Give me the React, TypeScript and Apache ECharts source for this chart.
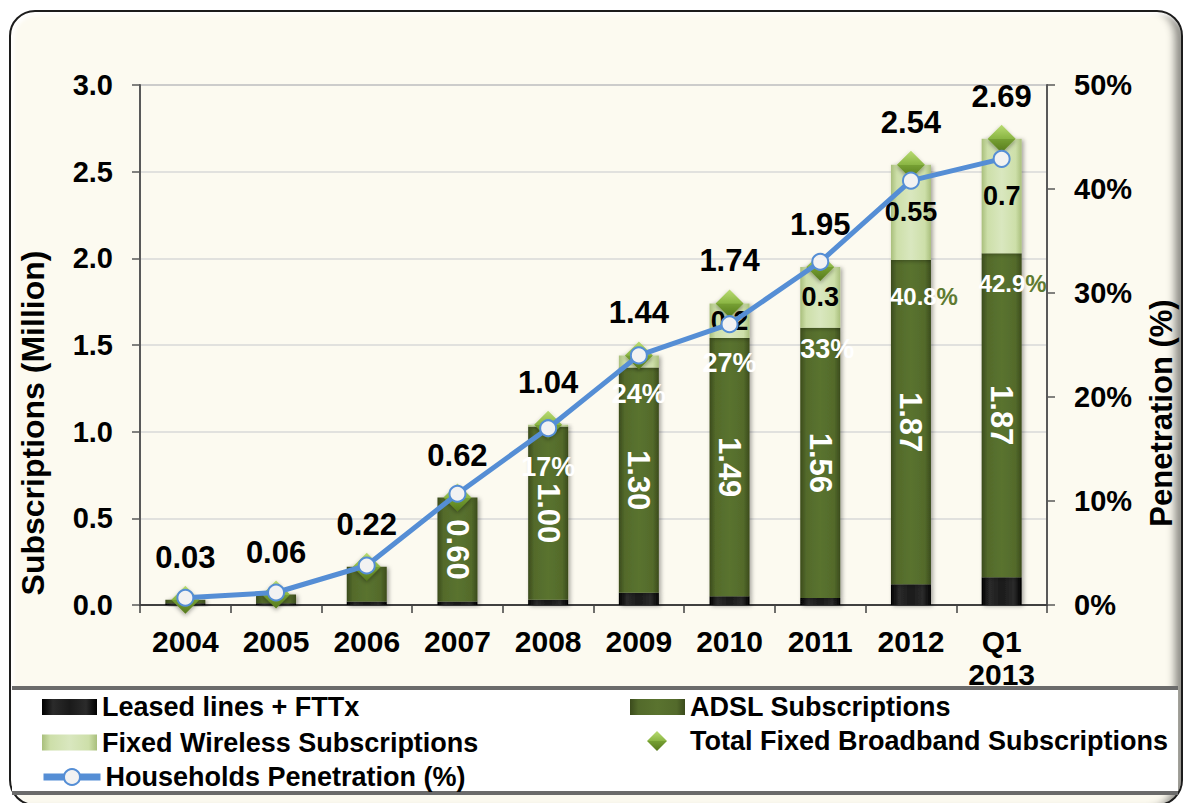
import React, { useEffect, useRef } from "react";
import * as echarts from "echarts";

const categories = ["2004", "2005", "2006", "2007", "2008", "2009", "2010", "2011", "2012", "Q1\n2013"];
const leasedLines = [0.01, 0.01, 0.02, 0.02, 0.03, 0.07, 0.05, 0.04, 0.12, 0.16];
const adslSubs = [0.02, 0.05, 0.2, 0.6, 1.0, 1.3, 1.49, 1.56, 1.87, 1.87];
const fixedWireless = [0, 0, 0, 0, 0.01, 0.07, 0.2, 0.35, 0.55, 0.66];
const wirelessLabels = ["", "", "", "", "", "", "0.2", "0.3", "0.55", "0.7"];
const totalBroadband = [0.03, 0.06, 0.22, 0.62, 1.04, 1.44, 1.74, 1.95, 2.54, 2.69];
const penetration = [0.7, 1.2, 3.8, 10.7, 17, 24, 27, 33, 40.8, 42.9];

const FONT = "'Liberation Sans', Arial, Helvetica, sans-serif";
// label placement tweaks for the penetration labels (style, not data)
const penLabelShift: Record<number, [number, number]> = { 7: [7, 49], 8: [13, 79], 9: [11, 88] };

const hGrad = (stops: [number, string][]) =>
  new echarts.graphic.LinearGradient(0, 0, 1, 0, stops.map(([offset, color]) => ({ offset, color })));
const vGrad = (stops: [number, string][]) =>
  new echarts.graphic.LinearGradient(0, 0, 0, 1, stops.map(([offset, color]) => ({ offset, color })));

function buildOption(): any {
  const leasedColor = hGrad([[0, "#000000"], [0.2, "#2b2b2b"], [0.5, "#1a1a1a"], [0.8, "#2b2b2b"], [1, "#000000"]]);
  const adslColor = hGrad([[0, "#3b4b1c"], [0.15, "#536a2b"], [0.5, "#5a732f"], [0.85, "#536a2b"], [1, "#3b4b1c"]]);
  const wirelessColor = hGrad([[0, "#a9bf7c"], [0.15, "#cddfa9"], [0.5, "#d9e7bf"], [0.85, "#cddfa9"], [1, "#a9bf7c"]]);
  const diamondColor = vGrad([[0, "#b9dc72"], [0.5, "#8ab543"], [0.51, "#76a033"], [1, "#56791c"]]);
  const barShadow = { shadowBlur: 4, shadowColor: "rgba(0,0,0,0.35)", shadowOffsetX: 2, shadowOffsetY: 1 };
  const legendText = { fontFamily: FONT, fontSize: 27, fontWeight: "bold", color: "#000", lineHeight: 30 };
  const legendBase = { orient: "horizontal", padding: 0, itemWidth: 55, textStyle: legendText, selectedMode: false };

  return {
    animation: false,
    backgroundColor: "transparent",
    textStyle: { fontFamily: FONT },
    grid: { left: 140, right: 141, top: 85, bottom: 198, show: true, borderColor: "#8c8c8c", borderWidth: 1.5 },
    legend: [
      { ...legendBase, data: ["Leased lines + FTTx"], left: 42, top: 692, itemHeight: 16, icon: "rect" },
      { ...legendBase, data: ["Fixed Wireless Subscriptions"], left: 42, top: 727.5, itemHeight: 16, icon: "rect" },
      {
        ...legendBase,
        data: ["Households Penetration (%)"],
        left: 40,
        top: 762,
        itemWidth: 57,
        itemHeight: 20,
        lineStyle: { width: 7 },
      },
      { ...legendBase, data: ["ADSL Subscriptions"], left: 630, top: 692, itemHeight: 16, icon: "rect" },
      {
        ...legendBase,
        data: ["Total Fixed Broadband Subscriptions"],
        left: 647,
        top: 726,
        itemWidth: 20,
        itemHeight: 20,
        textStyle: { ...legendText, padding: [0, 0, 0, 18] },
      },
    ],
    xAxis: {
      type: "category",
      data: categories,
      boundaryGap: true,
      axisLine: { show: true, lineStyle: { color: "#404040", width: 2 } },
      axisTick: { show: true, length: 8, interval: 0, alignWithLabel: false, lineStyle: { color: "#404040", width: 1.5 } },
      axisLabel: { interval: 0, margin: 20, fontFamily: FONT, fontSize: 30, fontWeight: "bold", color: "#000", lineHeight: 33 },
    },
    yAxis: [
      {
        type: "value",
        min: 0,
        max: 3,
        interval: 0.5,
        axisLine: { show: true, lineStyle: { color: "#595959", width: 2 } },
        axisTick: { show: true, length: 8, lineStyle: { color: "#595959", width: 1.5 } },
        axisLabel: {
          margin: 27,
          fontFamily: FONT,
          fontSize: 29,
          fontWeight: "bold",
          color: "#000",
          formatter: (v: number) => v.toFixed(1),
        },
        splitLine: { show: true, lineStyle: { color: "#d9d9d9", width: 1.5 } },
      },
      {
        type: "value",
        position: "right",
        min: 0,
        max: 50,
        interval: 10,
        axisLine: { show: true, lineStyle: { color: "#595959", width: 2 } },
        axisTick: { show: true, length: 8, lineStyle: { color: "#595959", width: 1.5 } },
        axisLabel: {
          margin: 27,
          fontFamily: FONT,
          fontSize: 29,
          fontWeight: "bold",
          color: "#000",
          formatter: "{value}%",
        },
        splitLine: { show: false },
      },
    ],
    graphic: [
      {
        type: "text",
        x: 33,
        y: 423,
        rotation: Math.PI / 2,
        style: {
          text: "Subscriptions (Million)",
          fontFamily: FONT,
          fontSize: 32,
          fontWeight: "bold",
          fill: "#000",
          align: "center",
          verticalAlign: "middle",
        },
      },
      {
        type: "text",
        x: 1161,
        y: 413,
        rotation: Math.PI / 2,
        style: {
          text: "Penetration (%)",
          fontFamily: FONT,
          fontSize: 31,
          fontWeight: "bold",
          fill: "#000",
          align: "center",
          verticalAlign: "middle",
        },
      },
    ],
    series: [
      {
        name: "Leased lines + FTTx",
        type: "bar",
        stack: "subs",
        barWidth: 40,
        data: leasedLines,
        itemStyle: { color: leasedColor, ...barShadow },
        z: 2,
      },
      {
        name: "ADSL Subscriptions",
        type: "bar",
        stack: "subs",
        barWidth: 40,
        data: adslSubs,
        itemStyle: { color: adslColor, ...barShadow },
        label: {
          show: true,
          position: "inside",
          rotate: -90,
          fontFamily: FONT,
          fontSize: 31,
          fontWeight: "bold",
          color: "#fff",
          formatter: (p: any) => (p.dataIndex >= 3 ? Number(p.value).toFixed(2) : ""),
        },
        z: 2,
      },
      {
        name: "Fixed Wireless Subscriptions",
        type: "bar",
        stack: "subs",
        barWidth: 40,
        data: fixedWireless,
        itemStyle: { color: wirelessColor, ...barShadow },
        label: {
          show: true,
          position: "inside",
          fontFamily: FONT,
          fontSize: 27,
          fontWeight: "bold",
          color: "#000",
          formatter: (p: any) => wirelessLabels[p.dataIndex],
        },
        z: 2,
      },
      {
        name: "Total Fixed Broadband Subscriptions",
        type: "scatter",
        symbol: "diamond",
        symbolSize: 28,
        data: totalBroadband,
        itemStyle: { color: diamondColor, opacity: 1, shadowBlur: 4, shadowColor: "rgba(0,0,0,0.35)", shadowOffsetY: 2 },
        label: {
          show: true,
          position: "top",
          distance: 13,
          fontFamily: FONT,
          fontSize: 31,
          fontWeight: "bold",
          color: "#000",
          opacity: 1,
          formatter: (p: any) => Number(p.value).toFixed(2),
        },
        z: 3,
      },
      {
        name: "Households Penetration (%)",
        type: "line",
        yAxisIndex: 1,
        symbol: "circle",
        symbolSize: 16,
        lineStyle: { color: "#558ed5", width: 5 },
        itemStyle: { color: "#f2f2f2", borderColor: "#558ed5", borderWidth: 2 },
        data: penetration.map((v, i) => {
          const shift = penLabelShift[i] || [0, 0];
          const big = i >= 8;
          return {
            value: v,
            label: {
              show: i >= 4,
              position: "bottom",
              distance: 16,
              offset: shift,
              fontFamily: FONT,
              fontSize: big ? 24 : 27,
              fontWeight: "bold",
              color: "#fff",
              formatter: big ? `{w|${v.toFixed(1)}}{g|%}` : `${Math.round(v)}%`,
              rich: big
                ? {
                    w: { fontFamily: FONT, fontSize: 24, fontWeight: "bold", color: "#fff" },
                    g: { fontFamily: FONT, fontSize: 24, fontWeight: "bold", color: "#5f7a31" },
                  }
                : undefined,
            },
          };
        }),
        z: 4,
      },
    ],
  };
}

export default function App() {
  const ref = useRef<HTMLDivElement>(null);
  useEffect(() => {
    if (!ref.current) return;
    const chart = echarts.init(ref.current, undefined, { renderer: "svg" });
    chart.setOption(buildOption());
    return () => chart.dispose();
  }, []);
  return (
    <div style={{ position: "fixed", left: 0, top: 0, width: 1188, height: 803, background: "#fff", overflow: "hidden" }}>
      <div
        style={{
          position: "absolute",
          left: 9,
          top: 10,
          width: 1174,
          height: 796,
          boxSizing: "border-box",
          border: "2.5px solid #1c1c1c",
          borderRadius: 26,
          background: "#fcfaf0",
          boxShadow: "inset 3px 3px 4px rgba(255,255,255,0.95), inset -12px 0 8px -6px rgba(0,0,0,0.45)",
        }}
      />
      <div
        style={{
          position: "absolute",
          left: 12,
          top: 686,
          width: 1166,
          height: 109,
          boxSizing: "border-box",
          background: "#fff",
          borderTop: "4px solid #6b6b6b",
          borderBottom: "4px solid #6b6b6b",
        }}
      />
      <div ref={ref} style={{ position: "absolute", left: 0, top: 0, width: 1188, height: 803 }} />
    </div>
  );
}
